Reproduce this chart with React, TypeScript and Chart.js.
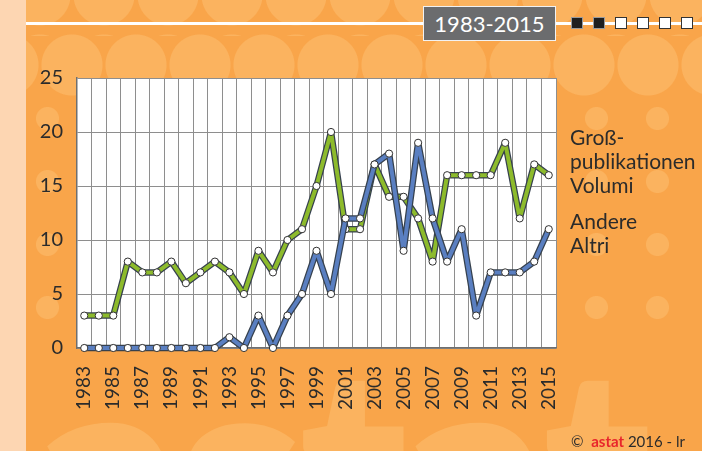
import React, { useEffect, useRef } from "react";
import { Chart, registerables } from "chart.js";

Chart.register(...registerables);

const years = [
  "1983", "1984", "1985", "1986", "1987", "1988", "1989", "1990", "1991", "1992", "1993",
  "1994", "1995", "1996", "1997", "1998", "1999", "2000", "2001", "2002", "2003", "2004",
  "2005", "2006", "2007", "2008", "2009", "2010", "2011", "2012", "2013", "2014", "2015",
];
const grossPublikationen = [
  3, 3, 3, 8, 7, 7, 8, 6, 7, 8, 7, 5, 9, 7, 10, 11, 15, 20, 11, 11, 17, 14, 14, 12, 8, 16, 16,
  16, 16, 19, 12, 17, 16,
];
const andere = [
  0, 0, 0, 0, 0, 0, 0, 0, 0, 0, 1, 0, 3, 0, 3, 5, 9, 5, 12, 12, 17, 18, 9, 19, 12, 8, 11, 3, 7,
  7, 7, 8, 11,
];
const yTicks = [0, 5, 10, 15, 20, 25];
const legendGross = ["Groß-", "publikationen", "Volumi"];
const legendAndere = ["Andere", "Altri"];
const periodLabel = "1983-2015";

const GREEN = "#8dbb2c";
const BLUE = "#5a7fc1";
const OUTLINE = "#36414e";
const FONT = "Lato, 'Noto Sans', sans-serif";

const plotBg = {
  id: "plotBg",
  beforeDraw(chart: any) {
    const { ctx, chartArea } = chart;
    ctx.save();
    ctx.fillStyle = "#ffffff";
    ctx.fillRect(chartArea.left, chartArea.top, chartArea.right - chartArea.left, chartArea.bottom - chartArea.top);
    ctx.restore();
  },
};

function ChartCanvas() {
  const ref = useRef<HTMLCanvasElement | null>(null);
  useEffect(() => {
    if (!ref.current) return;
    const common = {
      clip: false as any,
      tension: 0,
      fill: false,
      borderJoinStyle: "round" as const,
      borderCapStyle: "round" as const,
    };
    const chart = new Chart(ref.current, {
      type: "line",
      data: {
        labels: years,
        datasets: [
          {
            ...common,
            label: "Andere",
            data: andere,
            borderColor: BLUE,
            borderWidth: 4,
            pointRadius: 3.6,
            pointBackgroundColor: "#ffffff",
            pointBorderColor: "#333333",
            pointBorderWidth: 1,
            order: 0,
          },
          {
            ...common,
            label: "Andere outline",
            data: andere,
            borderColor: OUTLINE,
            borderWidth: 6.5,
            pointRadius: 0,
            order: 1,
          },
          {
            ...common,
            label: "Großpublikationen",
            data: grossPublikationen,
            borderColor: GREEN,
            borderWidth: 4,
            pointRadius: 3.6,
            pointBackgroundColor: "#ffffff",
            pointBorderColor: "#333333",
            pointBorderWidth: 1,
            order: 2,
          },
          {
            ...common,
            label: "Großpublikationen outline",
            data: grossPublikationen,
            borderColor: OUTLINE,
            borderWidth: 6.5,
            pointRadius: 0,
            order: 3,
          },
        ],
      },
      options: {
        animation: false,
        responsive: false,
        devicePixelRatio: 1,
        layout: { padding: { left: 0, right: 146, top: 78, bottom: 0 } },
        plugins: { legend: { display: false }, tooltip: { enabled: false } },
        scales: {
          x: {
            type: "category",
            offset: true,
            grid: { offset: true, color: "#8e8e8e", lineWidth: 1, drawTicks: false },
            border: { color: "#6f6f6f", width: 1.5 },
            ticks: {
              autoSkip: false,
              minRotation: 90,
              maxRotation: 90,
              padding: 18,
              color: "#2b2b2b",
              font: { family: FONT, size: 19 },
              callback: (_v: any, i: number) => (i % 2 === 0 ? years[i] : ""),
            },
            afterFit: (s: any) => {
              s.height = 103;
            },
          },
          y: {
            min: yTicks[0],
            max: yTicks[yTicks.length - 1],
            grid: { color: "#8e8e8e", lineWidth: 1, drawTicks: false },
            border: { color: "#6f6f6f", width: 1.5 },
            ticks: {
              stepSize: 5,
              padding: 14,
              color: "#2b2b2b",
              font: { family: FONT, size: 20 },
            },
            afterFit: (s: any) => {
              s.width = 77;
            },
          },
        },
      },
      plugins: [plotBg],
    });
    return () => chart.destroy();
  }, []);
  return (
    <canvas
      ref={ref}
      width={702}
      height={451}
      style={{ position: "absolute", left: 0, top: 0, width: 702, height: 451 }}
    />
  );
}

export default function App() {
  const squares = [true, true, false, false, false, false];
  const textStyle: React.CSSProperties = {
    position: "absolute",
    fontFamily: FONT,
    fontSize: 21,
    lineHeight: "24px",
    color: "#2b2b2b",
    whiteSpace: "nowrap",
  };
  return (
    <div
      style={{
        position: "absolute",
        left: 0,
        top: 0,
        width: 702,
        height: 451,
        overflow: "hidden",
        background: "#f9a54a",
      }}
    >
      {/* decorative background */}
      <div
        style={{
          position: "absolute",
          left: 26,
          top: -40,
          width: 676,
          height: 76,
          backgroundImage: "radial-gradient(circle, #fbb35f 30px, transparent 31px)",
          backgroundSize: "64px 70px",
          backgroundPosition: "-18px 0px",
        }}
      />
      <div
        style={{
          position: "absolute",
          left: 26,
          top: 30,
          width: 676,
          height: 70,
          backgroundImage: "radial-gradient(circle, #fbb35f 30px, transparent 31px)",
          backgroundSize: "64px 70px",
          backgroundPosition: "14px 0px",
        }}
      />
      <div
        style={{
          position: "absolute",
          left: 26,
          top: 100,
          width: 676,
          height: 230,
          backgroundImage: "radial-gradient(circle, #fbb35f 11px, transparent 12px)",
          backgroundSize: "61px 63px",
          backgroundPosition: "-9px -13px",
        }}
      />
      <div
        aria-hidden="true"
        style={{
          position: "absolute",
          left: 34,
          top: 318,
          fontFamily: "Lato, sans-serif",
          fontWeight: 900,
          fontSize: 290,
          lineHeight: "290px",
          letterSpacing: -6,
          color: "#fbb35f",
          whiteSpace: "nowrap",
        }}
      >
        astat
      </div>
      {/* left strip */}
      <div style={{ position: "absolute", left: 0, top: 0, width: 26, height: 451, background: "#fdd6b2" }} />
      {/* header line */}
      <div style={{ position: "absolute", left: 26, top: 22, width: 676, height: 2.5, background: "#ffffff" }} />
      <div
        style={{
          position: "absolute",
          left: 423,
          top: 6,
          width: 131,
          height: 33,
          background: "#6b6c6e",
          border: "1.5px solid #f2f2f2",
          color: "#ffffff",
          fontFamily: FONT,
          fontSize: 22,
          lineHeight: "33px",
          textAlign: "center",
        }}
      >
        {periodLabel}
      </div>
      {squares.map((dark, i) => (
        <div
          key={i}
          style={{
            position: "absolute",
            left: 571 + i * 22,
            top: 17,
            width: 10,
            height: 10,
            background: dark ? "#1f1f1f" : "#ffffff",
            border: dark ? "1px solid #9a9a9a" : "1.5px solid #333333",
            boxSizing: "content-box",
          }}
        />
      ))}
      <ChartCanvas />
      {/* legend text */}
      {legendGross.map((t, i) => (
        <div key={"g" + i} style={{ ...textStyle, left: 570, top: 125 + i * 24 }}>
          {t}
        </div>
      ))}
      {legendAndere.map((t, i) => (
        <div key={"a" + i} style={{ ...textStyle, left: 570, top: 209 + i * 24 }}>
          {t}
        </div>
      ))}
      <div
        style={{
          position: "absolute",
          left: 571,
          top: 432,
          fontFamily: FONT,
          fontSize: 15,
          lineHeight: "18px",
          color: "#2b2b2b",
          whiteSpace: "nowrap",
        }}
      >
        ©{"\u00a0\u00a0"}
        <span style={{ color: "#e8262c", fontWeight: 700 }}>astat</span> 2016 - lr
      </div>
    </div>
  );
}
